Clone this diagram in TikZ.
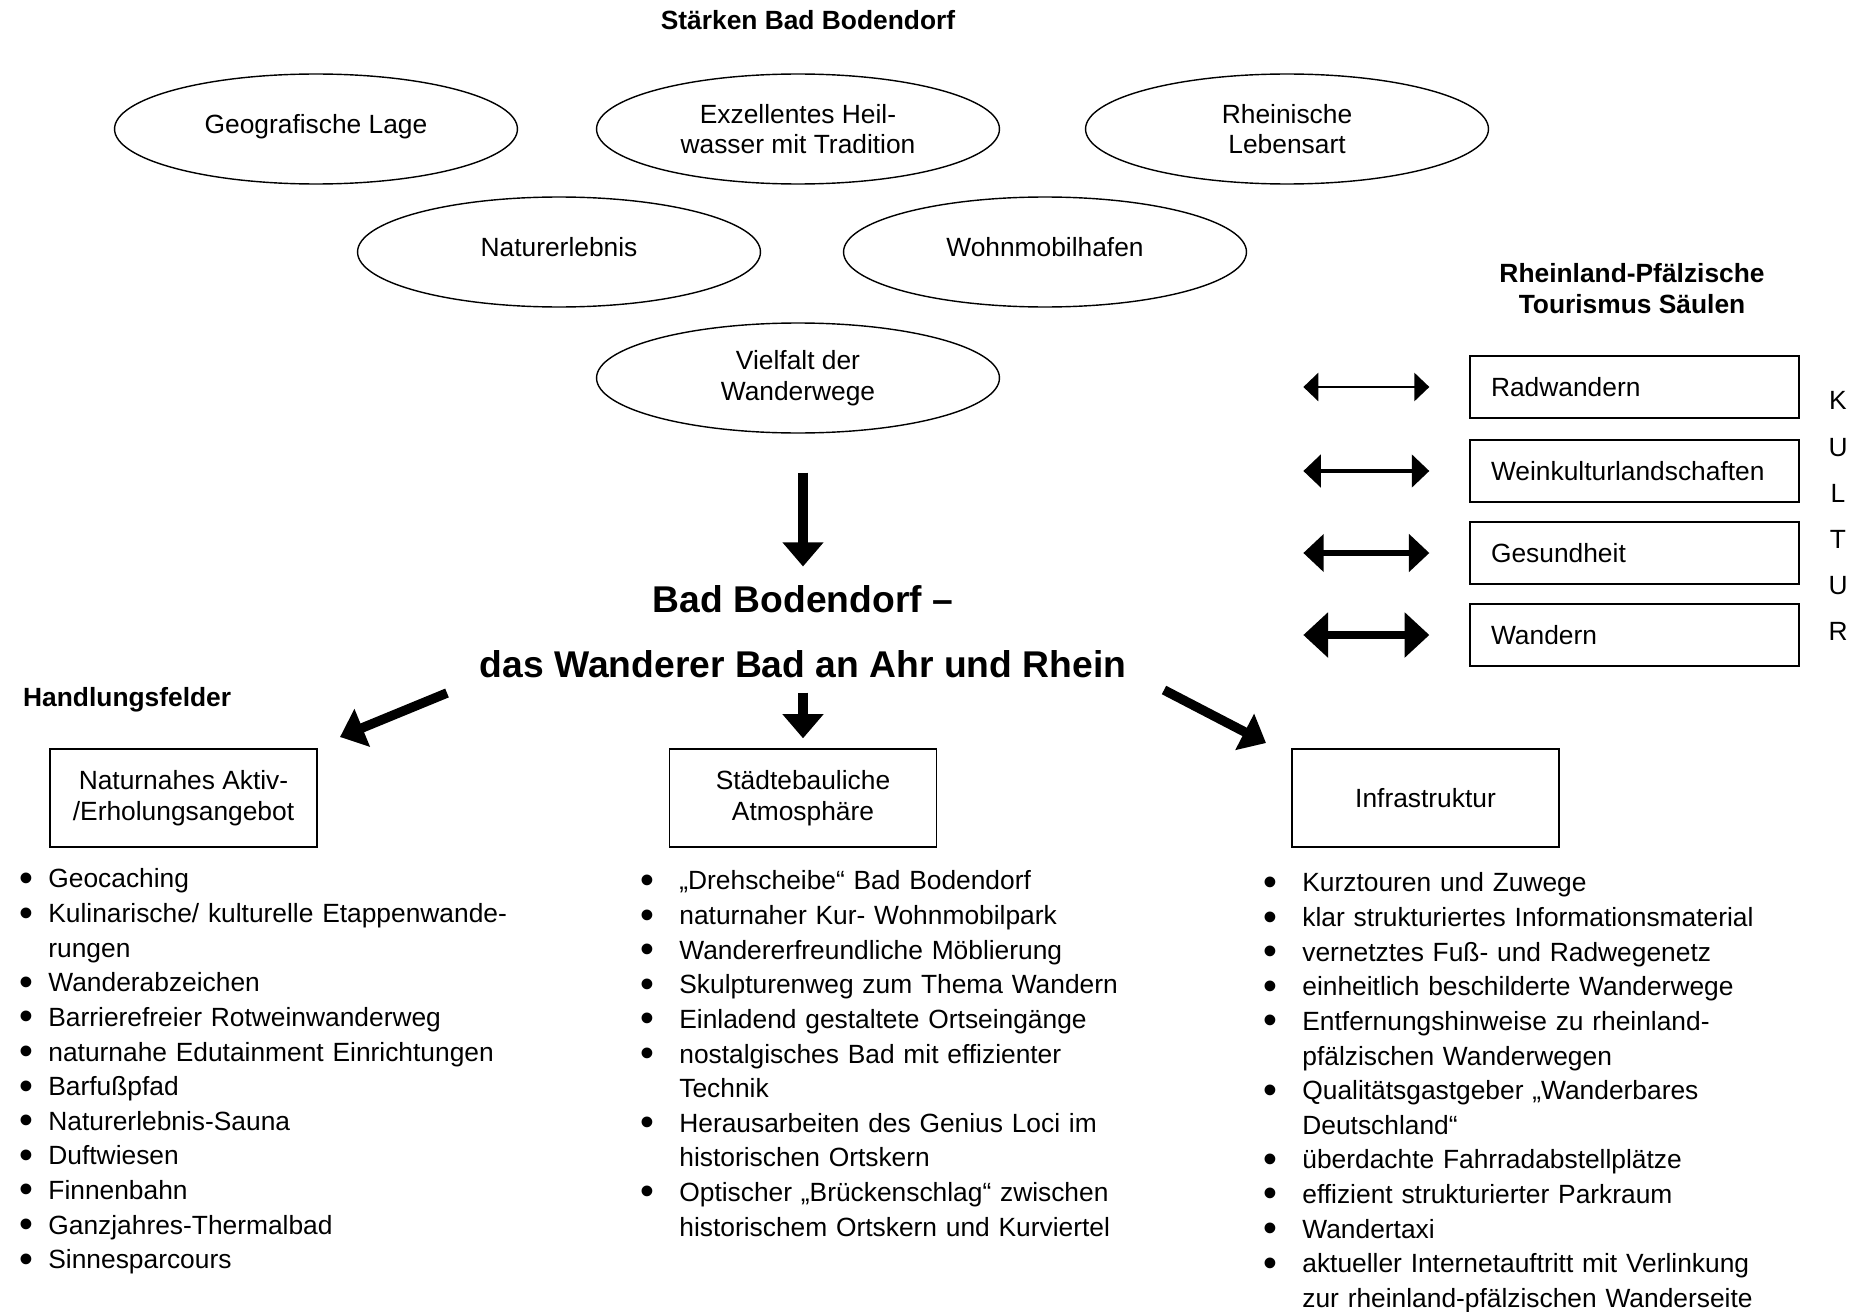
\documentclass[tikz,border=0pt]{standalone}
\usepackage{fontspec}
\setmainfont{Liberation Sans}
\usepackage{graphicx}
\usepackage{enumitem}
\usetikzlibrary{arrows.meta,calc,shapes.geometric,positioning}

\newcommand{\bodyfont}{\fontsize{15pt}{17.5pt}\selectfont}
\newcommand{\listfont}{\fontsize{15pt}{19.7pt}\selectfont}
\setlist[itemize]{label=\raisebox{-2pt}{\scalebox{1.5}{\textbullet}},itemsep=0pt,topsep=0pt,parsep=0pt,partopsep=0pt}

\begin{document}
\begin{tikzpicture}[x=0.02cm,y=-0.02cm,>=Latex,
  staerke/.style={draw,ellipse,line width=0.8pt,minimum width=8.06cm,minimum height=2.2cm,align=center,font=\bodyfont},
  saeule/.style={draw,line width=0.8pt,minimum height=1.24cm,text width=5.74cm,inner xsep=0.42cm,align=left,font=\bodyfont},
  feld/.style={draw,line width=0.8pt,minimum width=5.34cm,minimum height=1.96cm,align=center,font=\bodyfont},
  liste/.style={anchor=north west,inner sep=0pt,text width=11cm,align=left,font=\listfont},
  kopf/.style={font=\bfseries\bodyfont,align=center},
  bigarrow/.style={line width=5.4pt,-{Triangle[length=13.7pt,width=22.5pt]}},
  duo/.style={line width=#1,{Triangle[length=6.4pt 1.53,width=12.5pt 2.5]}-{Triangle[length=6.4pt 1.53,width=12.5pt 2.5]}}]
\useasboundingbox (0,0) rectangle (1868,1311);

% Staerken
\node[kopf] (titel) at (808,20) {Stärken Bad Bodendorf};
\node[staerke,text depth=5.8pt] (geo) at (316,129) {Geografische Lage};
\node[staerke] (heilwasser) at (798,129) {Exzellentes Heil-\\wasser mit Tradition};
\node[staerke] (lebensart) at (1287,129) {Rheinische\\Lebensart};
\node[staerke,text depth=5.8pt] (naturerl) at (559,252) {Naturerlebnis};
\node[staerke,text depth=5.8pt] (womo) at (1045,252) {Wohnmobilhafen};
\node[staerke] (vielfalt) at (798,378) {Vielfalt der\\Wanderwege};

\node[font=\bfseries\fontsize{21.2pt}{37pt}\selectfont,align=center,inner sep=0pt] (bb) at (803,632) {Bad Bodendorf –\\das Wanderer Bad an Ahr und Rhein};
\draw[bigarrow,shorten <=0.78cm,shorten >=0.38cm] (bb.north |- vielfalt.south) -- (bb.north);

% Tourismus Saeulen
\node[kopf,font=\bfseries\fontsize{15pt}{17.6pt}\selectfont] (rlp) at (1632,289) {Rheinland-Pfälzische\\Tourismus Säulen};
\node[saeule] (rad) at (1634.5,387) {Radwandern};
\node[saeule] (wein) at (1634.5,471) {Weinkulturlandschaften};
\node[saeule] (ges) at (1634.5,553) {Gesundheit};
\node[saeule] (wan) at (1634.5,635) {Wandern};
\foreach \n/\w in {rad/1.4pt,wein/2.3pt,ges/3.4pt,wan/5pt}
  \draw[duo=\w] ($(\n.west)+(-166,0)$) -- ($(\n.west)+(-40,0)$);
\node[font=\fontsize{15pt}{26.2pt}\selectfont,align=center] (kultur) at (1838,516) {K\\U\\L\\T\\U\\R};

% Handlungsfelder
\node[kopf,anchor=west] (hf) at (17,700) {Handlungsfelder};
\node[feld] (aktiv) at (183.5,798) {Naturnahes Aktiv-\\/Erholungsangebot};
\node[feld] (stadt) at (803,798) {Städtebauliche\\Atmosphäre};
\node[feld] (infra) at (1425.5,798) {Infrastruktur};

\coordinate (la) at (447,693);
\coordinate (lb) at (340,737);
\coordinate (ra) at (1164,690);
\coordinate (rb) at (1266,743);
\draw[bigarrow] (la) -- (lb);
\draw[bigarrow,shorten <=0.28cm,shorten >=0.2cm] (bb.south) -- (stadt.north);
\draw[bigarrow] (ra) -- (rb);

\node[liste] (aktivliste) at (21,853) {\begin{itemize}[leftmargin=15.4pt,labelsep=8.8pt]
\item Geocaching
\item Kulinarische/ kulturelle Etappenwande-\newline rungen
\item Wanderabzeichen
\item Barrierefreier Rotweinwanderweg
\item naturnahe Edutainment Einrichtungen
\item Barfußpfad
\item Naturerlebnis-Sauna
\item Duftwiesen
\item Finnenbahn
\item Ganzjahres-Thermalbad
\item Sinnesparcours
\end{itemize}};
\node[liste] (stadtliste) at (643,855) {\begin{itemize}[leftmargin=20.5pt,labelsep=14.2pt]
\item „Drehscheibe“ Bad Bodendorf
\item naturnaher Kur- Wohnmobilpark
\item Wandererfreundliche Möblierung
\item Skulpturenweg zum Thema Wandern
\item Einladend gestaltete Ortseingänge
\item nostalgisches Bad mit effizienter\newline Technik
\item Herausarbeiten des Genius Loci im\newline historischen Ortskern
\item Optischer „Brückenschlag“ zwischen\newline historischem Ortskern und Kurviertel
\end{itemize}};
\node[liste] (infraliste) at (1266,857) {\begin{itemize}[leftmargin=20.5pt,labelsep=14.2pt]
\item Kurztouren und Zuwege
\item klar strukturiertes Informationsmaterial
\item vernetztes Fuß- und Radwegenetz
\item einheitlich beschilderte Wanderwege
\item Entfernungshinweise zu rheinland-\newline pfälzischen Wanderwegen
\item Qualitätsgastgeber „Wanderbares\newline Deutschland“
\item überdachte Fahrradabstellplätze
\item effizient strukturierter Parkraum
\item Wandertaxi
\item aktueller Internetauftritt mit Verlinkung\newline zur rheinland-pfälzischen Wanderseite
\end{itemize}};
\end{tikzpicture}
\end{document}
